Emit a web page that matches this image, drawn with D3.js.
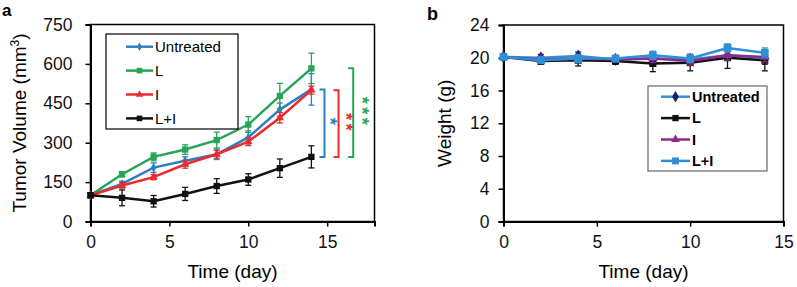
<!DOCTYPE html>
<html>
<head>
<meta charset="utf-8">
<script src="https://cdn.jsdelivr.net/npm/d3@7"></script>
<style>
  body { margin: 0; background: #fff; }
  svg { font-family: "Liberation Sans", Arial, sans-serif; }
</style>
</head>
<body>
<svg id="chart"></svg>
<script>
// --- data ---
const days = [0, 2, 4, 6, 8, 10, 12, 14];
const groups = ["Untreated", "L", "I", "L+I"];

// panel a: tumor volume (mm3)
const volUntreated = [100, 143, 205, 231, 256, 320, 426, 503];
const volL = [100, 180, 246, 274, 310, 369, 478, 583];
const volI = [100, 137, 169, 218, 256, 304, 395, 500];
const volLI = [100, 90, 77, 105, 135, 160, 203, 246];
const volErrUntreated = [5, 10, 18, 15, 20, 25, 25, 60];
const volErrL = [8, 10, 15, 18, 30, 30, 48, 58];
const volErrI = [5, 10, 10, 15, 15, 15, 20, 15];
const volErrLI = [10, 30, 22, 25, 28, 22, 35, 42];
const volTicks = [0, 150, 300, 450, 600, 750];
const dayTicks = [0, 5, 10, 15];
const sigLabels = ["*", "**", "***"]; // Untreated, I, L vs L+I at day 14

// panel b: body weight (g)
const wUntreated = [20.1, 20.0, 20.2, 19.8, 19.9, 19.8, 20.3, 20.0];
const wL = [20.1, 19.6, 19.7, 19.6, 19.3, 19.4, 20.0, 19.7];
const wI = [20.1, 19.8, 19.9, 19.8, 19.9, 19.6, 20.3, 20.1];
const wLI = [20.1, 19.7, 19.9, 19.9, 20.3, 19.9, 21.2, 20.6];
const wErrUntreated = [0.3, 0.4, 0.5, 0.4, 0.6, 0.6, 0.6, 0.8];
const wErrL = [0.3, 0.4, 0.7, 0.4, 1.0, 1.0, 1.3, 1.3];
const wErrI = [0.3, 0.3, 0.4, 0.3, 0.5, 0.5, 0.6, 0.6];
const wErrLI = [0.3, 0.4, 0.5, 0.4, 0.5, 0.5, 0.5, 0.6];
const wTicks = [0, 4, 8, 12, 16, 20, 24];

const width = 797, height = 287;
const svg = d3.select("#chart")
  .attr("width", width)
  .attr("height", height)
  .attr("viewBox", [0, 0, width, height]);

// series styles
const seriesA = [
  { name: "Untreated", v: volUntreated, e: volErrUntreated, line: "#2f7dc2", mark: "#2f7dc2", sym: d3.symbolDiamond, size: 26 },
  { name: "L", v: volL, e: volErrL, line: "#27a455", mark: "#27a455", sym: d3.symbolSquare, size: 40 },
  { name: "I", v: volI, e: volErrI, line: "#ec2a2e", mark: "#ec2a2e", sym: d3.symbolTriangle, size: 30 },
  { name: "L+I", v: volLI, e: volErrLI, line: "#111", mark: "#111", sym: d3.symbolSquare, size: 40 }
];
const seriesB = [
  { name: "Untreated", v: wUntreated, e: wErrUntreated, line: "#3a8fd6", mark: "#1c1f6e", sym: d3.symbolDiamond, size: 50 },
  { name: "L", v: wL, e: wErrL, line: "#111", mark: "#111", sym: d3.symbolSquare, size: 50 },
  { name: "I", v: wI, e: wErrI, line: "#8c2a8c", mark: "#8c2a8c", sym: d3.symbolTriangle, size: 40 },
  { name: "L+I", v: wLI, e: wErrLI, line: "#2e8fd6", mark: "#2e8fd6", sym: d3.symbolSquare, size: 60 }
];

function drawPanel(g, opt) {
  const x = d3.scaleLinear().domain(opt.xDomain).range([opt.left, opt.right]);
  const y = d3.scaleLinear().domain(opt.yDomain).range([opt.bottom, opt.top]);

  // frame
  g.append("rect")
    .attr("x", opt.left).attr("y", opt.top)
    .attr("width", opt.right - opt.left).attr("height", opt.bottom - opt.top)
    .attr("fill", "none").attr("stroke", "#000").attr("stroke-width", 1.5);

  const xAxis = g.append("g")
    .attr("transform", `translate(0,${opt.bottom})`)
    .call(d3.axisBottom(x).tickValues(dayTicks).tickSize(5).tickPadding(9));
  const yAxis = g.append("g")
    .attr("transform", `translate(${opt.left},0)`)
    .call(d3.axisLeft(y).tickValues(opt.yTicks).tickSize(5).tickPadding(opt.yPad));
  [xAxis, yAxis].forEach(a => {
    a.select(".domain").attr("stroke-width", 2);
    a.selectAll(".tick line").attr("stroke-width", 1.5);
    a.selectAll("text").attr("font-size", 17.5).attr("fill", "#111").attr("font-family", null);
  });

  g.append("text")
    .attr("x", (opt.left + opt.right) / 2).attr("y", 278)
    .attr("text-anchor", "middle").attr("font-size", 19)
    .text("Time (day)");
  g.append("text")
    .attr("transform", `translate(${opt.yTitleX},${(opt.top + opt.bottom) / 2}) rotate(-90)`)
    .attr("text-anchor", "middle").attr("font-size", 19)
    .html(opt.yTitle);

  const line = d3.line().x((d, i) => x(days[i])).y(d => y(d));

  opt.series.forEach(s => {
    const sg = g.append("g");
    // error bars
    const eb = sg.selectAll("g.err").data(s.v).join("g").attr("class", "err");
    eb.append("line")
      .attr("x1", (d, i) => x(days[i])).attr("x2", (d, i) => x(days[i]))
      .attr("y1", (d, i) => y(d - s.e[i])).attr("y2", (d, i) => y(d + s.e[i]))
      .attr("stroke", s.mark).attr("stroke-width", 1.3);
    [-1, 1].forEach(k => {
      eb.append("line")
        .attr("x1", (d, i) => x(days[i]) - 3).attr("x2", (d, i) => x(days[i]) + 3)
        .attr("y1", (d, i) => y(d + k * s.e[i])).attr("y2", (d, i) => y(d + k * s.e[i]))
        .attr("stroke", s.mark).attr("stroke-width", 1.3);
    });
    sg.append("path").datum(s.v)
      .attr("d", line).attr("fill", "none")
      .attr("stroke", s.line).attr("stroke-width", 2.5);
    sg.selectAll("path.mk").data(s.v).join("path").attr("class", "mk")
      .attr("transform", (d, i) => `translate(${x(days[i])},${y(d)})`)
      .attr("d", d3.symbol(s.sym, s.size))
      .attr("fill", s.mark);
  });

  // legend
  const lg = opt.legend;
  g.append("rect")
    .attr("x", lg.x).attr("y", lg.y).attr("width", lg.w).attr("height", lg.h)
    .attr("fill", "#fff").attr("stroke", lg.stroke).attr("stroke-width", 1.2);
  opt.series.forEach((s, i) => {
    const cy = lg.y0 + i * lg.dy;
    g.append("line")
      .attr("x1", lg.lx).attr("x2", lg.lx + lg.lw).attr("y1", cy).attr("y2", cy)
      .attr("stroke", s.line).attr("stroke-width", 2.5);
    g.append("path")
      .attr("transform", `translate(${lg.lx + lg.lw / 2},${cy})`)
      .attr("d", d3.symbol(s.sym, s.size * 0.8))
      .attr("fill", s.mark);
    g.append("text")
      .attr("x", lg.lx + lg.lw + 2).attr("y", cy).attr("dy", "0.36em")
      .attr("font-size", lg.fs).attr("font-weight", lg.fw)
      .text(s.name);
  });

  return { x, y };
}

// --- panel a ---
const ga = svg.append("g");
const pa = drawPanel(ga, {
  left: 90.5, right: 374.5, top: 24.5, bottom: 221.5,
  xDomain: [0, 18], yDomain: [0, 750], yTicks: volTicks, yPad: 13,
  yTitleX: 26, yTitle: "Tumor Volume (mm<tspan dy='-7' font-size='12'>3</tspan><tspan dy='7'>)</tspan>",
  series: seriesA,
  legend: { x: 106, y: 34, w: 132, h: 95, stroke: "#000", y0: 46.7, dy: 23.9, lx: 126, lw: 27, fs: 15, fw: "normal" }
});

// significance brackets: each group vs L+I at day 14
const last = days.length - 1;
const brackets = [
  { top: volUntreated[last], col: "#2f7dc2", bx: 14.83 },
  { top: volI[last], col: "#ec2a2e", bx: 15.72 },
  { top: volL[last], col: "#27a455", bx: 16.65 }
];
brackets.forEach((b, i) => {
  const bx = pa.x(b.bx);
  const y1 = pa.y(b.top), y2 = pa.y(volLI[last]);
  ga.append("path")
    .attr("d", `M${bx - 5},${y1}H${bx}V${y2}H${bx - 5}`)
    .attr("fill", "none").attr("stroke", b.col).attr("stroke-width", 2);
  const mid = (y1 + y2) / 2;
  // stars stacked vertically as one text
  ga.append("text")
    .attr("x", bx + 6 + i * 1.5).attr("y", mid)
    .style("writing-mode", "vertical-rl")
    .attr("text-anchor", "middle")
    .attr("font-size", 18).attr("font-weight", "bold")
    .attr("letter-spacing", 3.5)
    .attr("fill", b.col).text(sigLabels[i]);
});

// --- panel b ---
const gb = svg.append("g");
drawPanel(gb, {
  left: 503.5, right: 783.5, top: 25, bottom: 221.5,
  xDomain: [0, 15], yDomain: [0, 24], yTicks: wTicks, yPad: 9,
  yTitleX: 451, yTitle: "Weight (g)",
  series: seriesB,
  legend: { x: 648, y: 86, w: 119, h: 85, stroke: "#666", y0: 96.7, dy: 21.4, lx: 661, lw: 29, fs: 14.5, fw: "bold" }
});

// panel letters
svg.append("text").attr("x", 2).attr("y", 16).attr("font-size", 17).attr("font-weight", "bold").text("a");
svg.append("text").attr("x", 427).attr("y", 20).attr("font-size", 18).attr("font-weight", "bold").text("b");
</script>
</body>
</html>
